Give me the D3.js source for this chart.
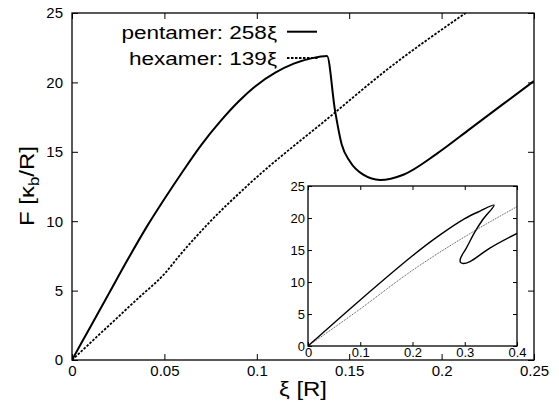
<!DOCTYPE html>
<html>
<head>
<meta charset="utf-8">
<script src="https://cdn.jsdelivr.net/npm/d3@7"></script>
<style>
body { margin: 0; background: #fff; }
svg { display: block; font-family: "Liberation Sans", Arial, sans-serif; }
</style>
</head>
<body>
<svg width="559" height="402"></svg>
<script>
// main panel: pentamer (solid) and hexamer (dashed)
var pentXi = [0, 0.01, 0.02, 0.03, 0.04, 0.05, 0.06, 0.07, 0.08, 0.09, 0.10, 0.11, 0.12, 0.13, 0.138,
              0.1423, 0.146, 0.1504, 0.1576, 0.1667, 0.1793, 0.1973, 0.2154, 0.2334, 0.25];
var pentF  = [0, 2.4, 4.8, 7.2, 9.5, 11.6, 13.6, 15.5, 17.15, 18.6, 19.8, 20.7, 21.35, 21.75, 21.9,
              18.0, 15.5, 14.3, 13.35, 12.97, 13.35, 14.85, 16.65, 18.45, 20.1];
var hexXi  = [0, 0.0169, 0.035, 0.0503, 0.0584, 0.0747, 0.0963, 0.1396, 0.1703, 0.213];
var hexF   = [0, 2.1, 4.35, 6.25, 7.56, 9.96, 12.73, 17.53, 20.9, 25];

// inset
var inPentXi = [0, 0.1, 0.2, 0.25, 0.3, 0.33, 0.356, 0.335, 0.32, 0.303, 0.292, 0.2915,
                0.297, 0.31, 0.348, 0.4];
var inPentF  = [0, 7.2, 14.1, 17.2, 19.9, 21.1, 22.0, 19.8, 17.9, 15.3, 13.7, 13.1,
                12.9, 13.2, 15.3, 17.6];
var inHexXi  = [0, 0.0927, 0.201, 0.319, 0.4];
var inHexF   = [0, 5.36, 11.88, 18.0, 21.77];

var xTicks = [0, 0.05, 0.1, 0.15, 0.2, 0.25];
var xTickLabels = ["0", "0.05", "0.1", "0.15", "0.2", "0.25"];
var yTicks = [0, 5, 10, 15, 20, 25];
var inXTicks = [0, 0.1, 0.2, 0.3, 0.4];
var inXTickLabels = ["0", "0.1", "0.2", "0.3", "0.4"];
var inYTicks = [0, 5, 10, 15, 20, 25];
var legendLabels = ["pentamer: 258\u03BE", "hexamer: 139\u03BE"];

var svg = d3.select("svg");

function zip(a, b) { return a.map(function(v, i) { return [v, b[i]]; }); }

function panel(opts) {
    var x = d3.scaleLinear().domain(opts.xDomain).range([opts.left, opts.right]);
    var y = d3.scaleLinear().domain(opts.yDomain).range([opts.bottom, opts.top]);
    var g = svg.append("g");

    g.append("rect")
        .attr("x", opts.left).attr("y", opts.top)
        .attr("width", opts.right - opts.left).attr("height", opts.bottom - opts.top)
        .attr("fill", "#fff");

    var t = opts.tick;
    var fmt = function(d, i) { return opts.xLabels[i]; };
    var axes = [
        g.append("g").attr("transform", "translate(0," + opts.bottom + ")")
            .call(d3.axisBottom(x).tickValues(opts.xTicks).tickFormat(fmt).tickSize(-t).tickSizeOuter(0).tickPadding(opts.padX)),
        g.append("g").attr("transform", "translate(0," + opts.top + ")")
            .call(d3.axisTop(x).tickValues(opts.xTicks).tickFormat("").tickSize(-t).tickSizeOuter(0)),
        g.append("g").attr("transform", "translate(" + opts.left + ",0)")
            .call(d3.axisLeft(y).tickValues(opts.yTicks).tickSize(-t).tickSizeOuter(0).tickPadding(opts.padY)),
        g.append("g").attr("transform", "translate(" + opts.right + ",0)")
            .call(d3.axisRight(y).tickValues(opts.yTicks).tickFormat("").tickSize(-t).tickSizeOuter(0))
    ];
    axes.forEach(function(a) {
        a.select(".domain").remove();
        a.selectAll("line").attr("stroke", "#000").attr("stroke-width", 1);
        a.selectAll("text").attr("fill", "#000").attr("font-size", opts.fontSize)
            .attr("font-family", "Liberation Sans, Arial, sans-serif");
    });

    var clipId = "clip" + opts.id;
    g.append("clipPath").attr("id", clipId).append("rect")
        .attr("x", opts.left).attr("y", opts.top)
        .attr("width", opts.right - opts.left).attr("height", opts.bottom - opts.top);

    opts.series.forEach(function(s) {
        var line = d3.line()
            .x(function(d) { return x(d[0]); })
            .y(function(d) { return y(d[1]); })
            .curve(s.curve);
        g.append("path")
            .datum(zip(s.x, s.y))
            .attr("clip-path", "url(#" + clipId + ")")
            .attr("fill", "none")
            .attr("stroke", s.color)
            .attr("stroke-width", s.width)
            .attr("stroke-dasharray", s.dash)
            .attr("stroke-linejoin", "round")
            .attr("d", line);
    });

    g.append("rect")
        .attr("x", opts.left).attr("y", opts.top)
        .attr("width", opts.right - opts.left).attr("height", opts.bottom - opts.top)
        .attr("fill", "none").attr("stroke", "#000").attr("stroke-width", 1.3);

    return { x: x, y: y, g: g };
}

var main = panel({
    id: "main", left: 72, right: 534, top: 13, bottom: 360,
    xDomain: [0, 0.25], yDomain: [0, 25],
    xTicks: xTicks, xLabels: xTickLabels, yTicks: yTicks,
    tick: 6, padX: 5, padY: 9, fontSize: "15px",
    series: [
        { x: pentXi, y: pentF, color: "#000", width: 2, dash: null, curve: d3.curveMonotoneX },
        { x: hexXi, y: hexF, color: "#000", width: 1.8, dash: "2.5,1.5", curve: d3.curveMonotoneX }
    ]
});

var inset = panel({
    id: "inset", left: 308, right: 517, top: 186, bottom: 346,
    xDomain: [0, 0.4], yDomain: [0, 25],
    xTicks: inXTicks, xLabels: inXTickLabels, yTicks: inYTicks,
    tick: 4, padX: 2, padY: 3, fontSize: "13px",
    series: [
        { x: inPentXi, y: inPentF, color: "#000", width: 1.4, dash: null, curve: d3.curveCatmullRom.alpha(0.5) },
        { x: inHexXi, y: inHexF, color: "#333", width: 0.9, dash: "1,1", curve: d3.curveMonotoneX }
    ]
});

// legend
var legend = svg.append("g").attr("font-size", "18.5px").attr("fill", "#000");
legend.append("text").attr("transform", "translate(277,38.5) scale(1.22,1)")
    .attr("text-anchor", "end").text(legendLabels[0]);
legend.append("text").attr("transform", "translate(277,65) scale(1.22,1)")
    .attr("text-anchor", "end").text(legendLabels[1]);
legend.append("line").attr("x1", 287).attr("x2", 317).attr("y1", 31.7).attr("y2", 31.7)
    .attr("stroke", "#000").attr("stroke-width", 2);
legend.append("line").attr("x1", 287).attr("x2", 318).attr("y1", 58).attr("y2", 58)
    .attr("stroke", "#000").attr("stroke-width", 1.8).attr("stroke-dasharray", "2.5,1.5");

// axis titles
svg.append("text")
    .attr("transform", "translate(303,396) scale(1.2,1)")
    .attr("text-anchor", "middle").attr("font-size", "20px")
    .text("\u03BE [R]");

var yTitle = svg.append("text")
    .attr("transform", "translate(34,186) rotate(-90) scale(1.2,1)")
    .attr("text-anchor", "middle").attr("font-size", "20px");
yTitle.append("tspan").text("F [\u03BA");
yTitle.append("tspan").attr("dy", 5).attr("font-size", "14px").text("b");
yTitle.append("tspan").attr("dy", -5).text("/R]");
</script>
</body>
</html>
